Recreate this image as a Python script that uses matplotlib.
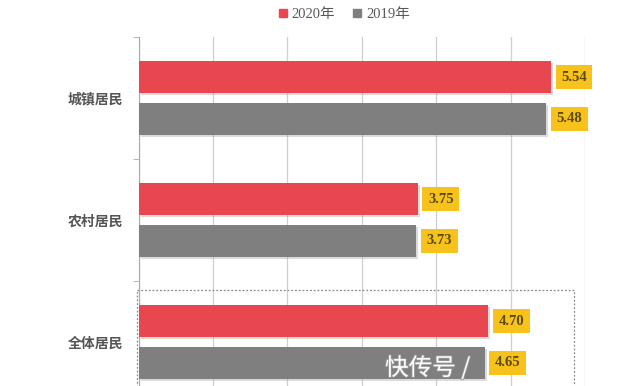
import matplotlib
matplotlib.use("Agg")
import matplotlib.pyplot as plt
import matplotlib.patheffects as pe
from matplotlib.lines import Line2D
from matplotlib.patches import Rectangle
import numpy as np

plt.rcParams['font.family'] = ['Noto Sans CJK SC', 'DejaVu Sans']

categories = ["城镇居民", "农村居民", "全体居民"]
series_names = ["2020年", "2019年"]
values_2020 = [5.54, 3.75, 4.70]
values_2019 = [5.48, 3.73, 4.65]
colors = ["#E8474F", "#7F7F7F"]
label_bg = "#F7C21B"
label_fg = "#5B4A06"

fig = plt.figure(figsize=(6.41, 3.86), dpi=100)
W, H = 641, 386
left_px, right_px, top_px = 138.5, 585, 37
group_px = 122
bottom_px = top_px + group_px * len(categories)
ax = fig.add_axes([left_px / W, 1 - bottom_px / H, (right_px - left_px) / W, (bottom_px - top_px) / H])

y = np.arange(len(categories))
bh = 0.265
off = 0.172
shadow = [pe.SimplePatchShadow(offset=(1.5, -1.5), shadow_rgbFace='#999999', alpha=0.35), pe.Normal()]
for vals, sign, col in [(values_2020, -1, colors[0]), (values_2019, 1, colors[1])]:
    bars = ax.barh(y + sign * off, vals, height=bh, color=col, zorder=3)
    for b in bars:
        b.set_path_effects(shadow)
    for yi, v in zip(y, vals):
        ax.annotate(f"{v:.2f}", xy=(v, yi + sign * off), xytext=(7.5, 0), textcoords='offset points',
                    ha='left', va='center', fontsize=10.5, fontweight='bold', color=label_fg,
                    family=['Liberation Serif'],
                    bbox=dict(boxstyle='square,pad=0.38', fc=label_bg, ec='none'), zorder=5)

ax.set_xlim(0, 6)
ax.set_ylim(len(categories) - 0.5, -0.5)
ax.set_xticks(np.arange(0, 7, 1))
ax.xaxis.grid(True, color='#CFCFCF', linewidth=0.9, zorder=0)
ax.set_axisbelow(True)
ax.tick_params(axis='x', length=0, labelbottom=False)
ax.set_yticks(y)
ax.set_yticklabels(categories, fontsize=10, color='#555555', fontweight='bold')
ax.tick_params(axis='y', which='major', length=0, pad=11)
ax.set_yticks(np.arange(-0.5, len(categories), 1), minor=True)
ax.tick_params(axis='y', which='minor', length=4, color='#AAAAAA', direction='out')
for s in ['top', 'right', 'bottom']:
    ax.spines[s].set_visible(False)
ax.spines['left'].set_color('#AAAAAA')

# dashed highlight box around last group
rect = Rectangle((-0.025, 1.57), 5.88, 1.0, fill=False, ec='#8A8A8A', ls=(0, (1.5, 1.5)),
                 lw=0.9, zorder=4, clip_on=False)
ax.add_patch(rect)

handles = [Line2D([], [], marker='s', ls='none', color=c, markersize=5.5) for c in colors]
fig.legend(handles, series_names, loc='center', bbox_to_anchor=(0.537, 0.962), ncol=2,
           frameon=False, handlelength=0.6, handletextpad=0.3, columnspacing=1.2,
           labelcolor='#595959', prop={'family': ['Liberation Serif', 'Noto Sans CJK SC'], 'size': 10.5})

fig.text(385 / W, 1 - 368 / H, "快传号 /", fontsize=17, color='white', ha='left', va='center',
         path_effects=[pe.withStroke(linewidth=1.2, foreground='#9A9A9A')], zorder=10)

fig.savefig("out.png", dpi=100)
